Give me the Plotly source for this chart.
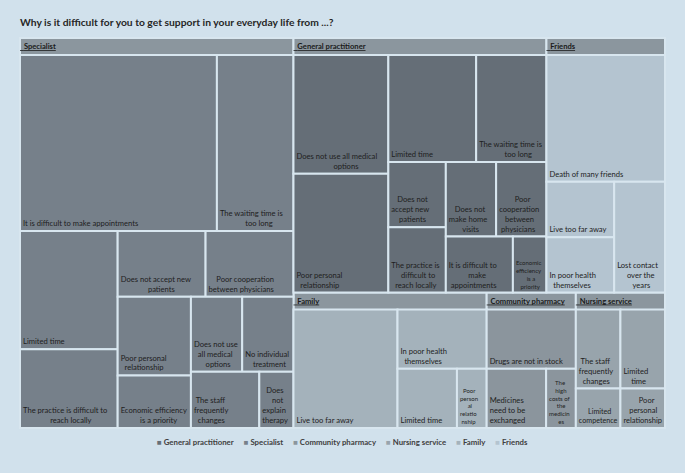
import plotly.graph_objects as go

# ---------------- data ----------------
title_text = "Why is it difficult for you to get support in your everyday life from ...?"

groups = ["Specialist", "General practitioner", "Friends", "Family",
          "Community pharmacy", "Nursing service"]

specialist_labels = [
    "It is difficult to make appointments",
    "The waiting time is<br>too long",
    "Limited time",
    "The practice is difficult to<br>reach locally",
    "Does not accept new<br>patients",
    "Poor cooperation<br>between physicians",
    "Poor personal<br>relationship",
    "Economic efficiency<br>is a priority",
    "Does not use<br>all medical<br>options",
    "No individual<br>treatment",
    "The staff<br>frequently<br>changes",
    "Does<br>not<br>explain<br>therapy",
]
specialist_values = [18, 7, 6, 4, 3, 3, 3, 2, 2, 2, 2, 1]

gp_labels = [
    "Does not use all medical<br>options",
    "Poor personal<br>relationship",
    "Limited time",
    "The waiting time is<br>too long",
    "Does not<br>accept new<br>patients",
    "The practice is<br>difficult to<br>reach locally",
    "Does not<br>make home<br>visits",
    "Poor<br>cooperation<br>between<br>physicians",
    "It is difficult to<br>make<br>appointments",
    "Economic<br>efficiency<br>is a<br>priority",
]
gp_values = [6, 6, 5, 4, 2, 2, 2, 2, 2, 1]

friends_labels = [
    "Death of many friends",
    "Live too far away",
    "In poor health<br>themselves",
    "Lost contact<br>over the<br>years",
]
friends_values = [8, 2, 2, 3]

family_labels = [
    "Live too far away",
    "In poor health<br>themselves",
    "Limited time",
    "Poor<br>person<br>al<br>relatio<br>nship",
]
family_values = [7, 3, 2, 1]

pharmacy_labels = [
    "Drugs are not in stock",
    "Medicines<br>need to be<br>exchanged",
    "The<br>high<br>costs of<br>the<br>medicin<br>es",
]
pharmacy_values = [3, 2, 1]

nursing_labels = [
    "The staff<br>frequently<br>changes",
    "Limited<br>time",
    "Limited<br>competence",
    "Poor<br>personal<br>relationship",
]
nursing_values = [2, 2, 1, 1]

small_text = {
    ("General practitioner", 9),
    ("Family", 3),
    ("Community pharmacy", 2),
}

legend_order = ["General practitioner", "Specialist", "Community pharmacy",
                "Nursing service", "Family", "Friends"]

# ---------------- style ----------------
BG = "#D1E1EC"
LINE = "#D8E6EF"
HEADER = "#8B969E"
TEXT = "#1E1E1E"
FONT = "Lato"
CLEAR = "rgba(0,0,0,0)"
leaf_colors = {
    "General practitioner": "#656E77",
    "Specialist": "#76808A",
    "Community pharmacy": "#8B959D",
    "Nursing service": "#98A4AC",
    "Family": "#A4B2BB",
    "Friends": "#B4C4D0",
}

group_data = {
    "Specialist": (specialist_labels, specialist_values),
    "General practitioner": (gp_labels, gp_values),
    "Friends": (friends_labels, friends_values),
    "Family": (family_labels, family_values),
    "Community pharmacy": (pharmacy_labels, pharmacy_values),
    "Nursing service": (nursing_labels, nursing_values),
}


# approximate glyph widths (em) to centre wrapped lines like the original
def _w(ch):
    if ch in "iljtfrI.,' ":
        return 0.27
    if ch in "mwMW":
        return 0.8
    if ch.isupper():
        return 0.62
    return 0.5


NBSP_EM = 0.193


def centre_lines(text):
    lines = text.split("<br>")
    if len(lines) == 1:
        return text
    widths = [sum(_w(c) for c in ln) for ln in lines]
    wmax = max(widths)
    out = []
    for ln, w in zip(lines, widths):
        n = int(round((wmax - w) / 2 / NBSP_EM))
        out.append("&nbsp;" * n + ln)
    return "<br>".join(out)


ids, labels, parents, values, colors, lcolors, sizes = [], [], [], [], [], [], []
header_labels, header_line = [], []
ids.append("root"); labels.append(""); parents.append(""); values.append(0)
colors.append(BG); lcolors.append(BG); sizes.append(7.6)
header_labels.append(""); header_line.append("none")

for g in groups:
    ids.append(g)
    labels.append("")
    parents.append("root")
    values.append(0)
    colors.append(HEADER)
    lcolors.append(LINE)
    sizes.append(7.6)
    header_labels.append("&nbsp;&nbsp;<b>" + g + "</b>")
    header_line.append("under")
    labs, vals = group_data[g]
    for i, (lab, v) in enumerate(zip(labs, vals)):
        ids.append(g + "/" + str(i))
        labels.append(centre_lines(lab))
        parents.append(g)
        values.append(v)
        colors.append(leaf_colors[g])
        lcolors.append(LINE)
        sizes.append(6 if (g, i) in small_text else 7.6)
        header_labels.append("")
        header_line.append("none")

common = dict(
    ids=ids, parents=parents, values=values,
    branchvalues="remainder", sort=False,
    tiling=dict(packing="squarify", squarifyratio=1.08, pad=0),
    pathbar=dict(visible=False),
    hoverinfo="skip",
)

# boxes + leaf labels (bottom left)
fig = go.Figure(go.Treemap(
    labels=labels,
    marker=dict(colors=colors, line=dict(color=lcolors, width=2),
                pad=dict(t=17, l=0, r=0, b=0), depthfade=False),
    textinfo="label", textposition="bottom left",
    textfont=dict(family=FONT, size=sizes, color=TEXT),
    **common,
))
# group header labels (top left) on a transparent copy of the same hierarchy
fig.add_trace(go.Treemap(
    labels=header_labels,
    marker=dict(colors=[CLEAR] * len(ids), line=dict(color=CLEAR, width=0),
                pad=dict(t=17, l=0, r=0, b=0), depthfade=False),
    textinfo="label", textposition="top left",
    textfont=dict(family=FONT, size=7.6, color="#1A1A1A",
                  lineposition=header_line),
    **common,
))

legend_parts = []
for g in legend_order:
    legend_parts.append('<span style="color:%s">■</span>&nbsp;<b>%s</b>' % (leaf_colors[g], g))
legend_text = "&nbsp;&nbsp;&nbsp;&nbsp;&nbsp;".join(legend_parts)

fig.update_layout(
    width=685, height=473,
    paper_bgcolor=BG, plot_bgcolor=BG,
    margin=dict(l=20, r=20, t=21, b=45),
    font=dict(family=FONT, color="#404040"),
    title=dict(text="<b>" + title_text + "</b>", x=20 / 685, xanchor="left",
               xref="container", y=1 - 22 / 473, yref="container", yanchor="middle",
               font=dict(family=FONT, size=10.3, color="#262626")),
    annotations=[dict(text=legend_text, x=0.5, y=-14 / 407, xref="paper", yref="paper",
                      xanchor="center", yanchor="middle", showarrow=False,
                      font=dict(family=FONT, size=7.8, color="#404040"))],
)

fig.write_html("out.html")
